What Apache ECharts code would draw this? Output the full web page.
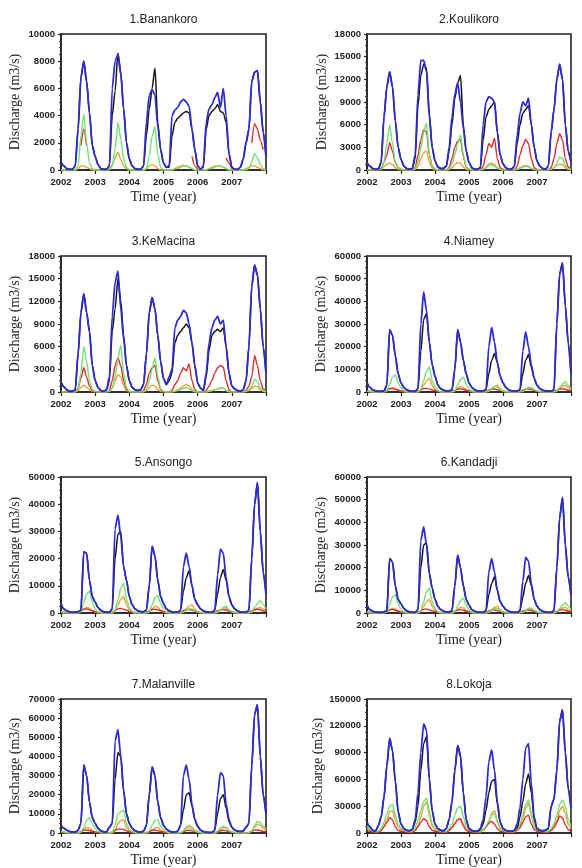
<!DOCTYPE html>
<html>
<head>
<meta charset="utf-8">
<title>Discharge 2002-2007</title>
<script src="https://cdn.jsdelivr.net/npm/echarts@6/dist/echarts.min.js"></script>
<style>
html,body{margin:0;padding:0;background:#fff;}
#main{width:582px;height:868px;}
</style>
</head>
<body>
<div id="main"></div>
<script>
// tick labels of the time axis, years
var years = ['2002', '2003', '2004', '2005', '2006', '2007'];
var yearStart = 2002, yearEnd = 2008;

var stationNames = ['1.Banankoro', '2.Koulikoro', '3.KeMacina', '4.Niamey',
                    '5.Ansongo', '6.Kandadji', '7.Malanville', '8.Lokoja'];
var yMax = [10000, 18000, 18000, 60000, 50000, 60000, 70000, 150000];
var yStep = [2000, 3000, 3000, 10000, 10000, 10000, 10000, 30000];

// discharge in 1000 m3/s, one value per month start, Jan 2002 .. Jan 2008
// null = no data
var banankoroBlue = [
  0.6,0.3,0.1,0.05,0.05,0.3,3,6.8,8,6.5,4.2,1.8,
  1,0.4,0.1,0.05,0.05,0.3,6,8,8.5,7,4.5,2,
  0.8,0.3,0.1,0.05,0.05,0.3,3.5,5.5,5.9,5.5,3.2,1.5,
  0.5,0.2,0.3,4,4.4,4.6,5,5.2,5,4.7,3,1.5,
  0.3,0.05,0.3,3.5,4.5,4.8,5.3,5.7,4.6,6,4,1.2,
  0.2,0.05,0.05,0.2,0.8,2,3,6.5,7.2,7.3,5,2.8,
  1];
var banankoroBlack = [
  0.6,0.3,0.1,0.05,0.05,0.3,3,6.8,8,6.5,4.2,1.8,
  1,0.4,0.1,0.05,0.05,0.3,4,5.8,8.6,7.2,4.5,2,
  0.8,0.3,0.1,0.05,0.05,0.3,2.5,4.5,6,7.5,3.5,1.5,
  0.5,0.2,0.2,2.5,3.5,3.8,4,4.2,4.3,4.2,3,1.5,
  0.3,0.05,0.2,3,4,4.3,4.5,4.8,4.3,4.2,3.5,1.2,
  0.2,0.05,0.05,0.2,0.8,2,3,6.5,7.2,7.3,5,2.8,
  1];
var banankoroGreen = [
  0,0,0,0,0,0,0.3,2.5,4.1,2,0.5,0.1,
  0,0,0,0,0,0,0.3,1.5,3.5,2.3,0.8,0.2,
  0,0,0,0,0,0,0.1,1,2.5,3.2,1.2,0.2,
  0,0,0,0,0.1,0.1,0.2,0.3,0.3,0.2,0.1,0,
  0,0,0,0,0.1,0.1,0.2,0.3,0.3,0.2,0.1,0,
  0,0,0,0,0,0,0.1,0.6,1.2,0.9,0.4,0.1,
  0];
var banankoroRed = [
  null,null,null,null,null,null,null,1.8,3,1.8,null,null,
  null,null,null,null,null,null,null,null,null,null,null,null,
  null,null,null,null,null,null,null,null,null,null,null,null,
  null,null,null,null,null,null,null,null,null,null,1,0.3,
  0.05,null,null,null,null,null,null,null,null,null,0.9,0.5,
  0.1,null,null,null,null,null,null,2,3.4,3,2.2,1.5,
  null];
var banankoroOrange = [
  0,0,0,0,0,0,0.1,0.3,0.3,0.2,0.1,0,
  0,0,0,0,0,0.1,0.4,0.9,1.3,0.8,0.3,0.1,
  0,0,0,0,0,0,0.1,0.3,0.4,0.3,0.1,0,
  0,0,0,0,0.1,0.2,0.3,0.35,0.3,0.2,0.1,0,
  0,0,0,0,0.1,0.2,0.3,0.3,0.3,0.2,0.1,0,
  0,0,0,0,0,0.1,0.2,0.3,0.3,0.2,0.1,0,
  0];

var koulikoroBlue = [
  1,0.5,0.2,0.1,0.1,1,7,11,13,11,6.5,3,
  1.4,0.5,0.2,0.1,0.2,2,10,14.5,14.5,13,7,3,
  1.2,0.4,0.2,0.2,0.5,3,7,10,11.5,9,5.5,2.5,
  1,0.3,0.1,0.1,0.3,6,9,9.7,9.5,9,5,2,
  0.8,0.3,0.1,0.1,0.5,4.5,7.5,9,8.5,9.5,6,3,
  1.2,0.5,0.2,0.1,0.5,5,8,12,14,12,6,2.5,
  1];
var koulikoroBlack = [
  1,0.5,0.2,0.1,0.1,1,7,11,13,11,6.5,3,
  1.4,0.5,0.2,0.1,0.2,1.5,8.5,12.5,14,13.5,7.5,3,
  1.2,0.4,0.2,0.2,0.5,2.5,6,9.5,11.5,12.5,6,2.5,
  1,0.3,0.1,0.1,0.3,4,7,8,8.5,9,5,2,
  0.8,0.3,0.1,0.1,0.5,3.5,6,7.5,8,8.5,6,3,
  1.2,0.5,0.2,0.1,0.5,5,8,12,14,12,6,2.5,
  1];
var koulikoroGreen = [
  0,0,0,0,0,0.1,1,3.5,6,3.5,1,0.3,
  0.1,0,0,0,0,0.2,1,3,5,6.2,2,0.4,
  0.1,0,0,0,0,0.2,0.8,2,3.5,4.6,2,0.4,
  0.1,0,0,0,0,0.1,0.3,0.6,0.7,0.5,0.2,0.1,
  0,0,0,0,0,0.1,0.2,0.4,0.5,0.4,0.2,0.1,
  0,0,0,0,0,0.1,0.3,0.9,1.7,1.5,0.6,0.2,
  0.1];
var koulikoroRed = [
  0,0,0,0,0,0.2,1,2,3.6,2.5,1,0.3,
  0.1,0,0,0,0,0.3,2,4,5.3,5,2,0.5,
  0.1,0,0,0,0,0.3,1.5,3,3.8,4,1.8,0.4,
  0.1,0,0,0,0,0.5,2,3.5,3,4.2,1.5,0.3,
  0.1,0,0,0,0,0.5,2,3.2,4,3.5,1.5,0.3,
  0.1,0,0,0,0,0.3,1.5,3.5,4.8,4,1.5,0.4,
  0.1];
var koulikoroOrange = [
  0,0,0,0,0,0.1,0.4,0.8,0.9,0.7,0.3,0.1,
  0,0,0,0,0,0.1,0.5,1.5,2.3,2.5,1,0.2,
  0,0,0,0,0,0.1,0.3,0.7,1,0.9,0.4,0.1,
  0,0,0,0,0,0.1,0.4,0.8,0.9,0.7,0.3,0.1,
  0,0,0,0,0,0.1,0.3,0.5,0.6,0.5,0.2,0.1,
  0,0,0,0,0,0.1,0.3,0.6,0.8,0.7,0.3,0.1,
  0];

var kemacinaBlue = [
  1.3,0.7,0.3,0.1,0.1,0.3,5,10.5,13,10.5,8,3.5,
  1.5,0.6,0.2,0.1,0.3,2,10,14.5,16,11,7,3.5,
  1.5,0.6,0.3,0.2,0.3,1,5,10.5,12.5,11,7.5,4,
  1.8,1,2,3,8.5,9.5,10,10.8,10.5,9,6.5,3.5,
  1.2,0.5,0.2,2.5,6.5,8.5,9.5,10,9,9.5,6,2.5,
  0.8,0.4,0.2,0.1,0.3,1.5,6,14,16.8,15.5,11,6,
  2.5];
var kemacinaBlack = [
  1.3,0.7,0.3,0.1,0.1,0.3,5,10.5,13,10.5,8,3.5,
  1.5,0.6,0.2,0.1,0.3,1.5,8,11,15,12,7.5,3.5,
  1.5,0.6,0.3,0.2,0.3,1,5,10.5,12.5,11,7.5,4,
  1.8,1,1.5,2.5,6.5,7.5,8,8.5,9,8.5,6.5,3.5,
  1.2,0.5,0.2,2,5.5,7.5,8,8.3,8,8.5,6,2.5,
  0.8,0.4,0.2,0.1,0.3,1.5,6,14,16.8,15.5,11,6,
  2.5];
var kemacinaGreen = [
  0,0,0,0,0,0,0.5,2.5,6,4,1.5,0.3,
  0.1,0,0,0,0,0.1,0.5,2,4.5,6.2,2.5,0.5,
  0.1,0,0,0,0,0.1,0.3,1.5,3,4.5,2,0.4,
  0.1,0,0,0,0.1,0.2,0.3,0.5,0.6,0.4,0.2,0,
  0,0,0,0,0.1,0.2,0.3,0.4,0.6,0.5,0.2,0,
  0,0,0,0,0,0.1,0.3,0.8,1.7,1.4,0.5,0.2,
  0.1];
var kemacinaRed = [
  0,0,0,0,0,0.1,0.5,1.8,3.2,2,0.8,0.2,
  0,0,0,0,0,0.2,1.5,3.5,4.5,3.5,1.5,0.3,
  0,0,0,0,0,0.2,1,2.5,3.2,3.5,1.5,0.3,
  0,0,0,0.2,1,1.5,2.5,3.2,2.8,3.7,1.5,0.3,
  0,0,0,0.2,0.8,1.5,2.5,3.2,3.5,3.3,1.5,0.3,
  0,0,0,0,0,0.2,0.8,2,4.8,3.5,1.5,0.4,
  0.1];
var kemacinaOrange = [
  0,0,0,0,0,0,0.2,0.6,0.9,0.6,0.3,0.1,
  0,0,0,0,0,0.1,0.5,1.5,2.3,2,0.8,0.2,
  0,0,0,0,0,0,0.2,0.6,0.9,0.8,0.3,0.1,
  0,0,0,0,0.1,0.3,0.5,0.8,1,0.8,0.3,0.1,
  0,0,0,0,0.1,0.2,0.3,0.4,0.5,0.5,0.2,0.1,
  0,0,0,0,0,0.1,0.2,0.5,0.8,0.7,0.3,0.1,
  0];

var niameyBlue = [
  4,2,1,0.5,0.3,0.3,0.5,3,27.5,25,16,8,
  4,2,1,0.5,0.3,0.3,1.5,30,44,36,22,12,
  7,3,1.5,0.8,0.5,0.5,1,10,27.5,22,14,8,
  4,2,1,0.5,0.5,0.5,1,20,28.5,22,13,7,
  4,2,1,0.5,0.5,0.5,1,18,26.5,20,12,6,
  3,1.5,0.8,0.5,0.4,0.4,1,30,52,57,38,22,
  8];
var niameyBlack = [
  4,2,1,0.5,0.3,0.3,0.5,3,27.5,25,16,8,
  4,2,1,0.5,0.3,0.3,1.5,18,32,34.5,22,12,
  7,3,1.5,0.8,0.5,0.5,1,10,27.5,22,14,8,
  4,2,1,0.5,0.5,0.5,1,8,14,17,13,7,
  4,2,1,0.5,0.5,0.5,1,8,14,16.5,11,6,
  3,1.5,0.8,0.5,0.4,0.4,1,30,52,57,38,22,
  8];
var niameyGreen = [
  0.5,0.2,0,0,0,0,0,0.5,3.5,6.5,7.5,4,
  2,0.5,0,0,0,0,0,1,5,9,11,5,
  2.5,0.5,0,0,0,0,0,0.5,3,5.5,6.5,3.5,
  1.5,0.3,0,0,0,0,0,0.3,1.5,2.5,2,1,
  0.5,0.1,0,0,0,0,0,0.3,1,2,2,1,
  0.5,0.1,0,0,0,0,0,0.5,2,3.5,4.5,3,
  1.5];
var niameyRed = [
  0.5,0.3,0.2,0.1,0.1,0.1,0.2,0.8,1.5,1.5,1.2,0.8,
  0.5,0.3,0.2,0.1,0.1,0.1,0.3,1,1.5,1.6,1.4,1,
  0.6,0.3,0.2,0.1,0.1,0.1,0.2,0.8,1.3,1.4,1.2,0.8,
  0.5,0.3,0.2,0.1,0.1,0.1,0.2,0.8,1.3,1.3,1,0.7,
  0.4,0.2,0.1,0.1,0.1,0.1,0.2,0.8,1.2,1.3,1.1,0.7,
  0.4,0.2,0.1,0.1,0.1,0.1,0.2,0.8,1.3,1.4,1.2,0.8,
  0.5];
var niameyOrange = [
  0.3,0.1,0,0,0,0,0,0.5,1.5,2,1.5,0.8,
  0.4,0.1,0,0,0,0,0,0.8,3,5,6,3,
  1.2,0.3,0,0,0,0,0,0.5,1.5,2.5,2,1,
  0.4,0.1,0,0,0,0,0,0.5,1.5,2.5,3,1.5,
  0.5,0.1,0,0,0,0,0,0.3,1,2,1.8,1,
  0.4,0.1,0,0,0,0,0,0.5,1.5,2.5,3,2,
  1];

var ansongoBlue = [
  3.5,1.5,0.8,0.4,0.3,0.3,0.5,1,22.5,22,12,6,
  4,2,1,0.5,0.3,0.3,1.5,31,36,28,17,12,
  6,3,1.5,0.8,0.5,0.5,1,10,24.5,21,12,6,
  3.5,1.5,0.8,0.4,0.3,0.3,1,17,22,17,10,5,
  3,1.5,0.8,0.4,0.3,0.3,1,14,23.5,22,13,6,
  3,1.5,0.8,0.4,0.3,0.3,1,20,40,48,30,15,
  7];
var ansongoBlack = [
  3.5,1.5,0.8,0.4,0.3,0.3,0.5,1,22.5,22,12,6,
  4,2,1,0.5,0.3,0.3,1.5,20,29,30,17,12,
  6,3,1.5,0.8,0.5,0.5,1,10,24.5,21,12,6,
  3.5,1.5,0.8,0.4,0.3,0.3,1,8,13,15.5,10,5,
  3,1.5,0.8,0.4,0.3,0.3,1,7,13,16,12,6,
  3,1.5,0.8,0.4,0.3,0.3,1,20,40,48,30,15,
  7];
var ansongoGreen = [
  0.5,0.2,0,0,0,0,0,0.5,4,7,8,4,
  1.5,0.3,0,0,0,0,0,1,5,9,11,5,
  2,0.5,0,0,0,0,0,0.5,3,5.5,6.5,3.5,
  1.5,0.3,0,0,0,0,0,0.3,1,1.5,1.5,0.8,
  0.4,0.1,0,0,0,0,0,0.3,1,2,2.5,1.2,
  0.5,0.1,0,0,0,0,0,0.5,2,3.5,4.5,3,
  1.5];
var ansongoRed = [
  0.5,0.3,0.2,0.1,0.1,0.1,0.2,0.8,1.4,1.5,1.2,0.8,
  0.5,0.3,0.2,0.1,0.1,0.1,0.3,1,1.5,1.7,1.4,1,
  0.6,0.3,0.2,0.1,0.1,0.1,0.2,0.8,1.3,1.4,1.2,0.8,
  0.5,0.3,0.2,0.1,0.1,0.1,0.2,0.8,1.2,1.3,1,0.7,
  0.4,0.2,0.1,0.1,0.1,0.1,0.2,0.8,1.2,1.3,1.1,0.7,
  0.4,0.2,0.1,0.1,0.1,0.1,0.2,0.8,1.3,1.4,1.2,0.8,
  0.5];
var ansongoOrange = [
  0.2,0.1,0,0,0,0,0,0.5,1.5,2,1.8,0.8,
  0.4,0.1,0,0,0,0,0,0.8,3,5,6,3,
  1.2,0.3,0,0,0,0,0,0.5,1.5,2.5,2.2,1,
  0.4,0.1,0,0,0,0,0,0.5,1.5,2.5,3,1.5,
  0.5,0.1,0,0,0,0,0,0.3,1,2,1.8,1,
  0.4,0.1,0,0,0,0,0,0.3,1,1.8,2,1.5,
  0.8];

var kandadjiBlue = [
  3.5,1.5,0.8,0.4,0.3,0.3,0.5,1,24,22.5,12,6,
  4,2,1,0.5,0.3,0.3,1.5,32,38,30,17,11,
  6,3,1.5,0.8,0.5,0.5,1,12,25.5,20,12,6,
  3.5,1.5,0.8,0.4,0.3,0.3,1,18,24,18,10,5,
  3,1.5,0.8,0.4,0.3,0.3,1,14,24.5,23,13,6,
  3,1.5,0.8,0.4,0.3,0.3,1,20,42,51,30,16,
  8];
var kandadjiBlack = [
  3.5,1.5,0.8,0.4,0.3,0.3,0.5,1,24,22.5,12,6,
  4,2,1,0.5,0.3,0.3,1.5,20,30,31,18,11,
  6,3,1.5,0.8,0.5,0.5,1,12,25.5,20,12,6,
  3.5,1.5,0.8,0.4,0.3,0.3,1,8,13,16,10,5,
  3,1.5,0.8,0.4,0.3,0.3,1,7,13,16.5,12,6,
  3,1.5,0.8,0.4,0.3,0.3,1,20,42,51,30,16,
  8];
var kandadjiGreen = [
  0.5,0.2,0,0,0,0,0,0.5,4,7,8,4,
  1.5,0.3,0,0,0,0,0,1,5,9.5,11,5,
  2,0.5,0,0,0,0,0,0.5,3,5.5,6.5,3.5,
  1.5,0.3,0,0,0,0,0,0.3,1,2,2,1,
  0.4,0.1,0,0,0,0,0,0.3,1,2,2.2,1.2,
  0.5,0.1,0,0,0,0,0,0.5,2,3.5,4.5,3,
  1.5];
var kandadjiRed = [
  0.5,0.3,0.2,0.1,0.1,0.1,0.2,0.8,1.4,1.6,1.2,0.8,
  0.5,0.3,0.2,0.1,0.1,0.1,0.3,1,1.6,1.8,1.4,1,
  0.6,0.3,0.2,0.1,0.1,0.1,0.2,0.8,1.3,1.5,1.2,0.8,
  0.5,0.3,0.2,0.1,0.1,0.1,0.2,0.8,1.2,1.3,1,0.7,
  0.4,0.2,0.1,0.1,0.1,0.1,0.2,0.8,1.2,1.3,1.1,0.7,
  0.4,0.2,0.1,0.1,0.1,0.1,0.2,0.8,1.3,1.5,1.2,0.8,
  0.5];
var kandadjiOrange = [
  0.2,0.1,0,0,0,0,0,0.5,1.5,2,1.8,0.8,
  0.4,0.1,0,0,0,0,0,0.8,3,5,6,3,
  1.2,0.3,0,0,0,0,0,0.5,1.5,2.5,2.2,1,
  0.4,0.1,0,0,0,0,0,0.5,1.5,2.5,3,1.5,
  0.5,0.1,0,0,0,0,0,0.3,1,2,1.8,1,
  0.4,0.1,0,0,0,0,0,0.5,1.5,2.2,2.5,1.5,
  0.8];

var malanvilleBlue = [
  4,2.5,1.5,0.8,0.5,0.5,1.5,5,35.5,30,16,8,
  5,2.5,1.2,0.6,0.5,3,5,48,54,40,22,10,
  5,2.5,1.2,0.6,0.5,1,4,20,34.5,30,16,8,
  4,2,1,0.5,0.5,1,4,30,35.5,28,15,7,
  3.5,1.5,0.8,0.4,0.3,0.3,1.5,20,31.5,30,15,7,
  3,1.5,1,0.8,1,3,5,35,62,67,40,20,
  10];
var malanvilleBlack = [
  4,2.5,1.5,0.8,0.5,0.5,1.5,5,35.5,30,16,8,
  5,2.5,1.2,0.6,0.5,3,5,28,42,40,22,10,
  5,2.5,1.2,0.6,0.5,1,4,20,34.5,30,16,8,
  4,2,1,0.5,0.5,1,4,12,20,21,14,7,
  3.5,1.5,0.8,0.4,0.3,0.3,1.5,10,18,20,13,6,
  3,1.5,1,0.8,1,3,5,35,62,67,40,20,
  10];
var malanvilleGreen = [
  1,0.5,0.2,0,0,0,0,0.5,3,6.5,8,5,
  2.5,1,0.3,0,0,0,0.5,4,10,11,12,5,
  2,0.8,0.2,0,0,0,0,1,4,6.5,7,3.5,
  1.5,0.5,0.1,0,0,0,0,1,2.5,3,2,1,
  0.5,0.2,0,0,0,0,0,1,2.5,3.5,3,1.2,
  0.5,0.2,0,0,0,0,0,1,4,6,5.5,3.5,
  2];
var malanvilleRed = [
  0.5,0.3,0.2,0.1,0.1,0.1,0.2,0.8,1.5,1.6,1.3,0.8,
  0.6,0.3,0.2,0.1,0.1,0.1,0.5,1.5,2,2,1.8,1.2,
  0.6,0.3,0.2,0.1,0.1,0.1,0.2,0.8,1.4,1.5,1.2,0.8,
  0.5,0.3,0.2,0.1,0.1,0.1,0.2,0.8,1.3,1.4,1.1,0.7,
  0.4,0.2,0.1,0.1,0.1,0.1,0.2,0.8,1.2,1.4,1.1,0.7,
  0.4,0.2,0.1,0.1,0.1,0.1,0.3,1,1.5,1.6,1.3,0.8,
  0.5];
var malanvilleOrange = [
  0.5,0.2,0,0,0,0,0,0.5,2,3,2.5,1.2,
  0.5,0.2,0,0,0,0,0,1,5,6.5,7,3,
  1.2,0.4,0,0,0,0,0,0.5,1.5,2.5,3,1.5,
  0.5,0.2,0,0,0,0,0,1,3,4,3,1.5,
  0.5,0.2,0,0,0,0,0,0.5,2,3,2.5,1.2,
  0.5,0.2,0,0,0,0,0,1,3,4.5,4,2.5,
  1.2];

var lokojaBlue = [
  12,7,3,2,8,18,40,75,106,92,58,24,
  10,5,3,2.5,4,15,45,90,122,115,60,25,
  10,5,3,2.5,5,15,35,70,98,85,45,15,
  5,3,2,2,5,15,40,80,93,70,35,12,
  5,3,2,2,3,10,28,60,95,100,55,18,
  5,3,2.5,3,5,30,38,70,125,138,90,50,
  28];
var lokojaBlack = [
  12,7,3,2,8,18,40,75,106,92,58,24,
  10,5,3,2.5,4,12,30,70,100,108,60,25,
  10,5,3,2.5,5,15,35,70,98,88,45,15,
  5,3,2,2,4,10,25,45,58,60,32,12,
  5,3,2,2,3,6,18,35,55,66,45,15,
  5,3,2.5,3,5,30,38,70,125,138,90,50,
  28];
var lokojaGreen = [
  8,4,2,1.5,2,5,12,22,30,32,20,10,
  5,3,2,1.5,2,6,14,25,35,39,25,10,
  5,3,2,1.5,2,5,10,20,28,30,18,8,
  4,2.5,1.5,1.5,2,4,8,14,20,22,12,5,
  3,2,1.5,1.5,2,4,10,20,32,37,22,8,
  4,2.5,2,2,2,5,10,20,32,37,30,15,
  8];
var lokojaRed = [
  3,2,1,1,1,3,7,12,17,15,7,3,
  2,1.5,1,1,1,3,7,12,16,14,7,3,
  2,1.5,1,1,1,3,6,11,15,16,8,3,
  2,1.5,1,1,2,4,7,11,13,10,5,2,
  1.5,1,1,1,1.5,3,6,12,18,20,10,4,
  2,1.5,1,1,1.5,3,6,12,19,17,9,4,
  2];
var lokojaOrange = [
  5,3,2,1,1,3,8,15,24,25,15,7,
  4,2,1.5,1,1,3,8,18,30,35,20,8,
  4,2,1.5,1,1,3,6,10,15,16,10,4,
  2,1.5,1,1,1,3,6,12,22,25,14,5,
  2.5,1.5,1,1,1,3,8,16,28,33,20,8,
  3,2,1.5,1,1,3,7,14,25,30,22,10,
  5];

// drawing order: orange, red, green, black, blue (blue on top)
var lineColors = ['#f0a032', '#e02b2b', '#72e072', '#141414', '#2c2cd2'];
var lineWidths = [1.4, 1.4, 1.4, 1.5, 1.8];
var stationData = [
  [banankoroOrange, banankoroRed, banankoroGreen, banankoroBlack, banankoroBlue],
  [koulikoroOrange, koulikoroRed, koulikoroGreen, koulikoroBlack, koulikoroBlue],
  [kemacinaOrange, kemacinaRed, kemacinaGreen, kemacinaBlack, kemacinaBlue],
  [niameyOrange, niameyRed, niameyGreen, niameyBlack, niameyBlue],
  [ansongoOrange, ansongoRed, ansongoGreen, ansongoBlack, ansongoBlue],
  [kandadjiOrange, kandadjiRed, kandadjiGreen, kandadjiBlack, kandadjiBlue],
  [malanvilleOrange, malanvilleRed, malanvilleGreen, malanvilleBlack, malanvilleBlue],
  [lokojaOrange, lokojaRed, lokojaGreen, lokojaBlack, lokojaBlue]
];

// panel layout
var colLeft = [61, 367];
var colWidth = [205, 204];
var rowTop = [34, 256, 477, 699];
var plotH = 136;
var nameGapY = [39, 38, 39, 39, 39, 39, 39, 42];

function toPairs(arr){
  return arr.map(function(v, i){
    return [yearStart + i / 12, v === null ? '-' : v * 1000];
  });
}

function drawChart(){
  var myChart = echarts.init(document.getElementById('main'));
  var option = {
    animation: false,
    backgroundColor: '#fff',
    title: [], grid: [], xAxis: [], yAxis: [], series: []
  };

  for (var k = 0; k < stationNames.length; k++) {
    var col = k % 2, row = Math.floor(k / 2);
    var gLeft = colLeft[col], gTop = rowTop[row], gW = colWidth[col];

    option.title.push({
      text: stationNames[k],
      left: gLeft + gW / 2,
      top: gTop - 20,
      textAlign: 'center',
      padding: 0,
      textStyle: {fontFamily: 'Liberation Sans', fontSize: 12, fontWeight: 'normal', color: '#222'}
    });
    option.grid.push({
      left: gLeft, top: gTop, width: gW, height: plotH,
      show: true, borderColor: '#222', borderWidth: 1.6, backgroundColor: 'transparent'
    });
    option.xAxis.push({
      type: 'value', gridIndex: k, min: yearStart, max: yearEnd, interval: 1,
      name: 'Time (year)', nameLocation: 'middle', nameGap: 20,
      nameTextStyle: {fontFamily: 'Liberation Serif', fontSize: 14, color: '#222'},
      axisLine: {onZero: false, lineStyle: {color: '#222', width: 1.6}},
      axisTick: {show: true, length: 4, lineStyle: {color: '#222', width: 1.2}},
      splitLine: {show: false},
      axisLabel: {
        margin: 7, color: '#222', fontFamily: 'Liberation Sans', fontWeight: 'bold', fontSize: 9.5,
        formatter: function(v){ var s = String(v); return years.indexOf(s) >= 0 ? s : ''; }
      }
    });
    option.yAxis.push({
      type: 'value', gridIndex: k, min: 0, max: yMax[k], interval: yStep[k],
      name: 'Discharge (m3/s)', nameLocation: 'middle', nameGap: nameGapY[k], nameRotate: 90,
      nameTextStyle: {fontFamily: 'Liberation Serif', fontSize: 14, color: '#222'},
      axisLine: {show: true, lineStyle: {color: '#222', width: 1.6}},
      axisTick: {show: true, length: 3, lineStyle: {color: '#222', width: 1.2}},
      minorTick: {show: true, splitNumber: 4, length: 2, lineStyle: {color: '#444', width: 1}},
      splitLine: {show: false},
      axisLabel: {
        margin: 6, color: '#222', fontFamily: 'Liberation Sans', fontWeight: 'bold', fontSize: 9.5,
        formatter: function(v){ return String(v); }
      }
    });
    for (var s = 0; s < 5; s++) {
      option.series.push({
        type: 'line',
        xAxisIndex: k, yAxisIndex: k,
        data: toPairs(stationData[k][s]),
        showSymbol: false,
        connectNulls: false,
        smooth: 0.25,
        smoothMonotone: 'x',
        lineStyle: {color: lineColors[s], width: lineWidths[s]},
        itemStyle: {color: lineColors[s]},
        z: 2 + s
      });
    }
  }
  myChart.setOption(option);
}

drawChart();
</script>
</body>
</html>
